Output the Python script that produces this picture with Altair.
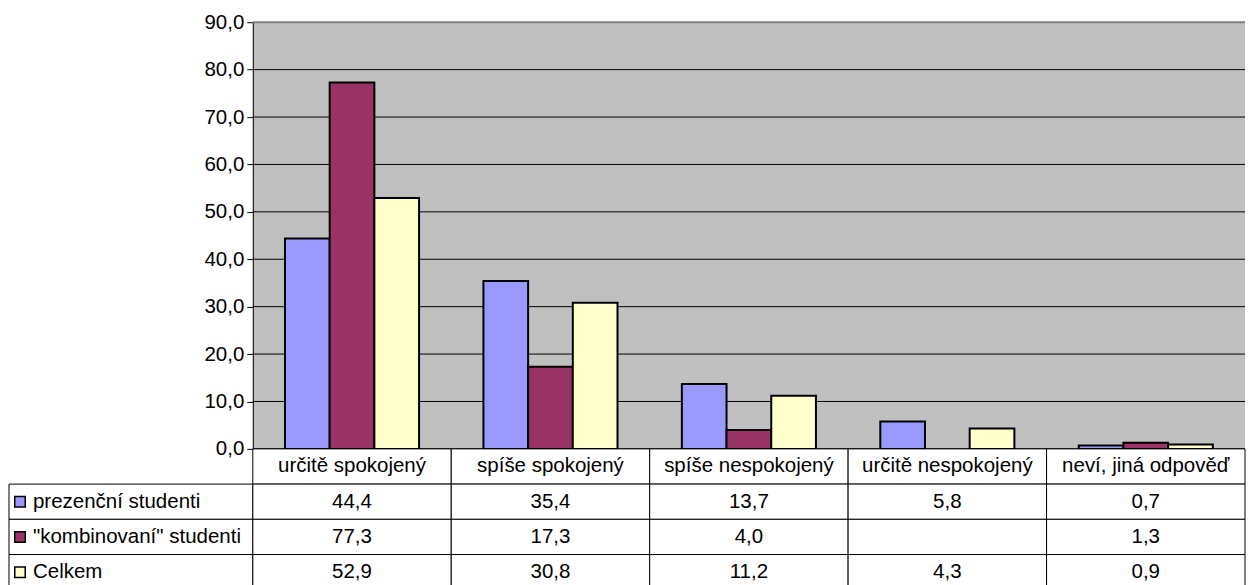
import altair as alt
import pandas as pd

categories = ["určitě spokojený", "spíše spokojený", "spíše nespokojený",
              "určitě nespokojený", "neví, jiná odpověď"]
series = ["prezenční studenti", "\"kombinovaní\" studenti", "Celkem"]
prezencni = [44.4, 35.4, 13.7, 5.8, 0.7]
kombinovani = [77.3, 17.3, 4.0, None, 1.3]
celkem = [52.9, 30.8, 11.2, 4.3, 0.9]
colors = ["#9999FF", "#993366", "#FFFFCC"]
y_ticks = [0, 10, 20, 30, 40, 50, 60, 70, 80, 90]
grid_values = [0, 10, 20, 30, 40, 50, 60, 70, 80]

FONT = "Liberation Sans"
FS = 20.5
W_LEG = 244
W_PLOT = 993
H_PLOT = 427
H_TAB = 141


def fmt(v):
    return "" if v is None else f"{v:.1f}".replace(".", ",")


values = {series[0]: prezencni, series[1]: kombinovani, series[2]: celkem}
bar_rows = []
for s in series:
    for c, v in zip(categories, values[s]):
        if v is not None:
            bar_rows.append({"category": c, "series": s, "value": v})
df_bars = pd.DataFrame(bar_rows)
df_grid = pd.DataFrame({"y": grid_values})
df_top = pd.DataFrame({"y": [90]})

rows = ["header"] + series
tab_rows = []
for c in categories:
    tab_rows.append({"category": c, "row": "header", "text": c})
    for s in series:
        v = values[s][categories.index(c)]
        tab_rows.append({"category": c, "row": s, "text": fmt(v)})
df_tab = pd.DataFrame(tab_rows)
df_leg = pd.DataFrame({"row": series, "series": series})

x_cat = alt.X("category:N", sort=categories,
              scale=alt.Scale(domain=categories, paddingInner=0, paddingOuter=0),
              axis=None)
y_scale_value = alt.Scale(domain=[0, 90], nice=False, zero=True)

grid = alt.Chart(df_grid).mark_rule(color="black", strokeWidth=1).encode(
    y=alt.Y("y:Q", scale=y_scale_value,
            axis=alt.Axis(values=y_ticks, grid=False,
                          labelExpr="replace(format(datum.value, '.1f'), '.', ',')",
                          domainColor="black", domainWidth=1,
                          tickColor="black", tickSize=6, tickWidth=1,
                          labelFont=FONT, labelFontSize=FS, labelColor="black",
                          labelPadding=3, title=None))
)
top_border = alt.Chart(df_top).mark_rule(color="#808080", strokeWidth=2).encode(
    y=alt.Y("y:Q", scale=y_scale_value))

bars = alt.Chart(df_bars).mark_bar(stroke="black", strokeWidth=2).encode(
    x=x_cat,
    xOffset=alt.XOffset("series:N", sort=series,
                        scale=alt.Scale(domain=series, paddingInner=0, paddingOuter=0.72)),
    y=alt.Y("value:Q", scale=y_scale_value),
    color=alt.Color("series:N", scale=alt.Scale(domain=series, range=colors), legend=None),
)

bar_chart = alt.layer(grid, top_border, bars).properties(
    width=W_PLOT, height=H_PLOT,
    view=alt.ViewBackground(fill="#C0C0C0", stroke=None),
)

blank = alt.Chart(df_leg).mark_text(text="", opacity=0).encode(
    x=alt.value(0), y=alt.value(0)
).properties(width=W_LEG, height=H_PLOT,
             view=alt.ViewBackground(fill=None, stroke=None))

y_rows = alt.Y("row:N", sort=rows,
               scale=alt.Scale(domain=rows, paddingInner=0, paddingOuter=0),
               axis=None)

cells = alt.Chart(df_tab).mark_rect(fill="white", stroke="black", strokeWidth=1).encode(
    x=x_cat, y=y_rows)
cell_text = alt.Chart(df_tab).mark_text(font=FONT, fontSize=FS, color="black",
                                        baseline="middle", align="center").encode(
    x=x_cat, y=y_rows, text="text:N")
table = alt.layer(cells, cell_text).properties(
    width=W_PLOT, height=H_TAB,
    view=alt.ViewBackground(fill=None, stroke=None))

leg_cells = alt.Chart(df_leg).mark_rect(fill="white", stroke="black", strokeWidth=1).encode(
    y=y_rows)
leg_sw = alt.Chart(df_leg).mark_square(size=110, stroke="black", strokeWidth=1.5,
                                       opacity=1, fillOpacity=1).encode(
    x=alt.value(11), y=y_rows,
    fill=alt.Fill("series:N", scale=alt.Scale(domain=series, range=colors), legend=None))
leg_text = alt.Chart(df_leg).mark_text(font=FONT, fontSize=FS, color="black",
                                       align="left", baseline="middle").encode(
    x=alt.value(24), y=y_rows, text="series:N")
legend_col = alt.layer(leg_cells, leg_sw, leg_text).properties(
    width=W_LEG, height=H_TAB,
    view=alt.ViewBackground(fill=None, stroke=None))

chart = alt.concat(blank, bar_chart, legend_col, table, columns=2,
                   spacing=0, bounds="flush", align="each").properties(
    padding={"top": 4, "left": 0, "right": 0, "bottom": 0},
    background="white",
).resolve_scale(color="independent", fill="independent")

chart.save("out.html", embed_options={"renderer": "svg", "actions": False})
